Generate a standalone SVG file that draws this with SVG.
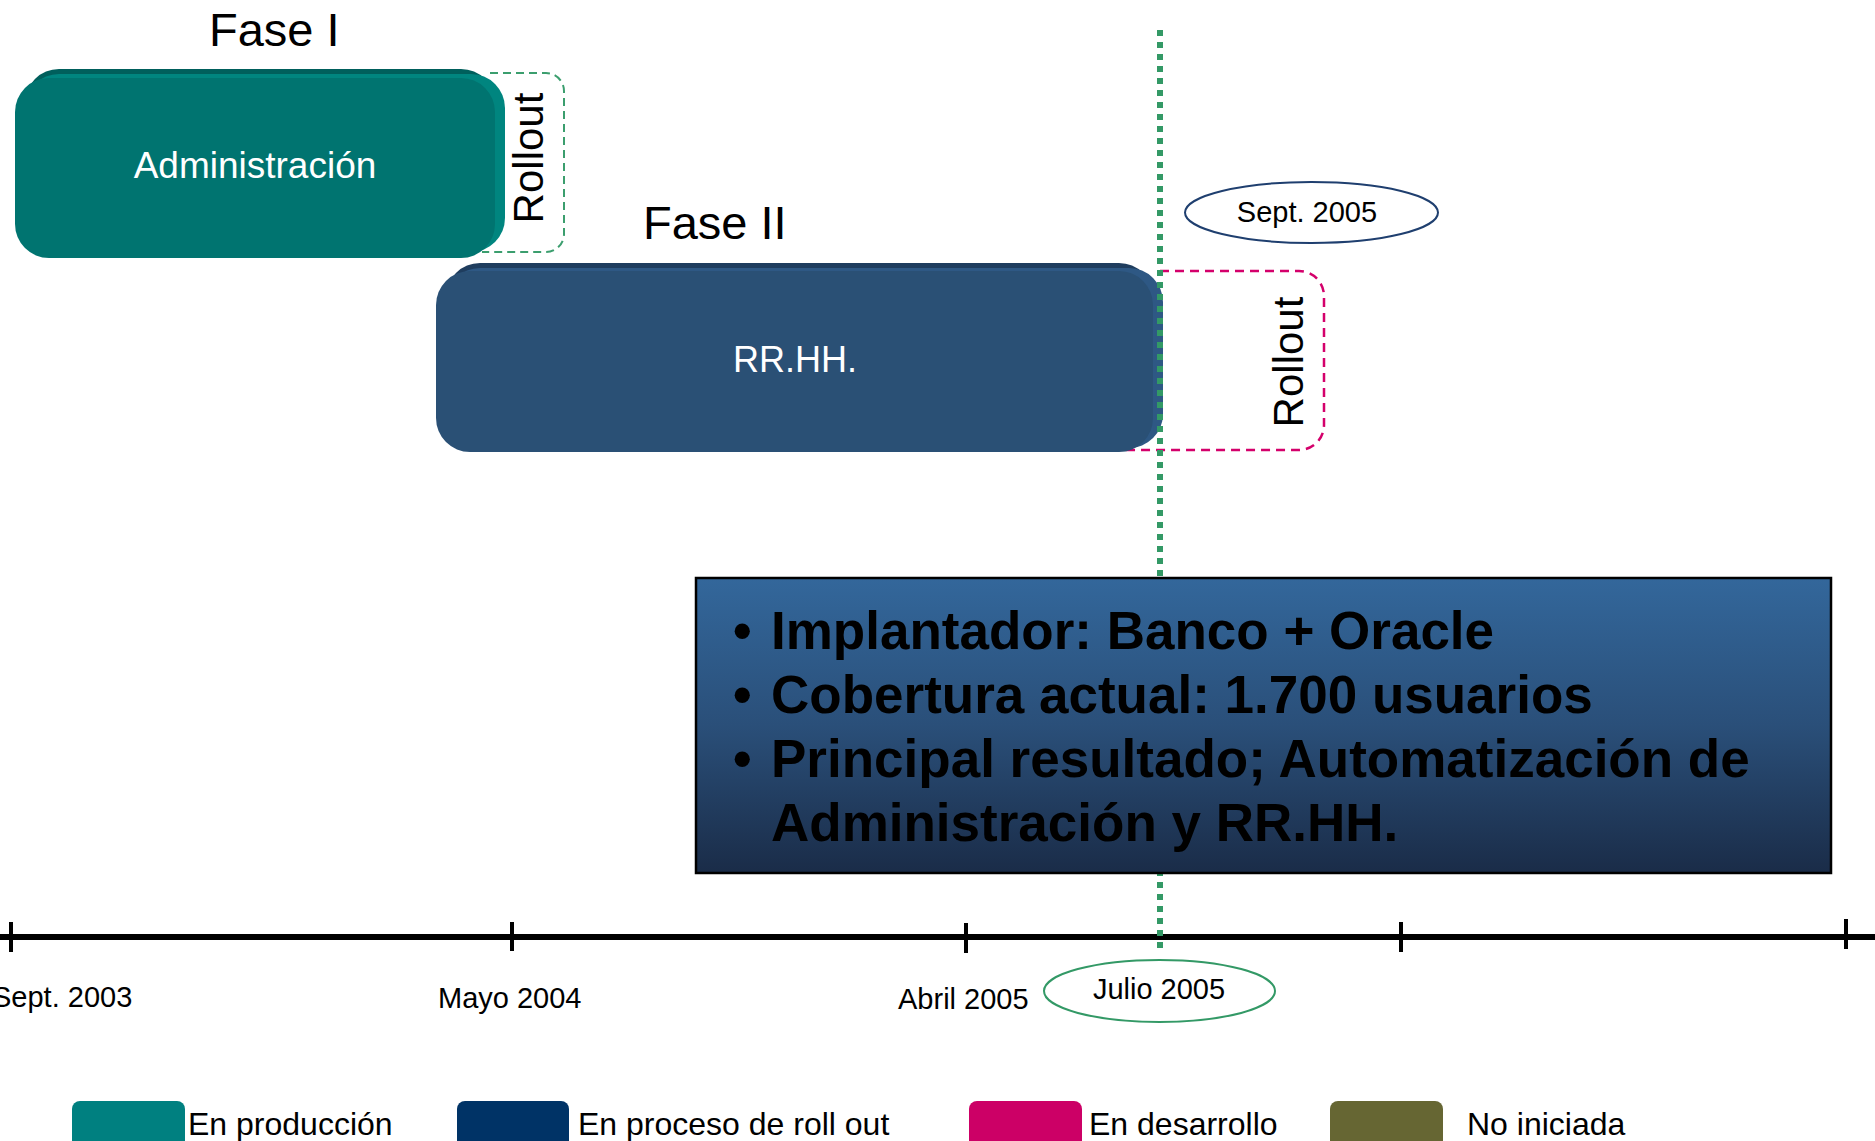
<svg xmlns="http://www.w3.org/2000/svg" width="1875" height="1141" viewBox="0 0 1875 1141">
<style>
text{font-family:"Liberation Sans",Arial,sans-serif;}
.ph{font-size:47px;fill:#000;}
.lbl{font-size:37px;fill:#fff;text-anchor:middle;}
.ro{font-size:42px;fill:#000;text-anchor:middle;}
.dt{font-size:29px;fill:#000;}
.bl{font-size:53px;font-weight:bold;fill:#000;}
.lg{font-size:32px;fill:#000;}
.tick{stroke:#000;stroke-width:4;}
</style>
<defs>
<linearGradient id="gbox" x1="0" y1="0" x2="0" y2="1">
<stop offset="0" stop-color="#33679b"/>
<stop offset="0.5" stop-color="#2a4f79"/>
<stop offset="1" stop-color="#1a2c48"/>
</linearGradient>
</defs>
<rect width="1875" height="1141" fill="#fff"/>

<text class="ph" x="209" y="46">Fase I</text>
<text class="ph" x="643" y="239">Fase II</text>

<g id="rollout1">
<path d="M490 73 H546 A18 18 0 0 1 564 91 V234 A18 18 0 0 1 546 252 H482" fill="none" stroke="#3b9e6e" stroke-width="2" stroke-dasharray="8 5"/>
<text class="ro" transform="translate(543,158) rotate(-90)">Rollout</text>
</g>

<g id="rollout2">
<path d="M1160 271 H1299 A25 25 0 0 1 1324 296 V425 A25 25 0 0 1 1299 450 H1124" fill="none" stroke="#d4006b" stroke-width="2.5" stroke-dasharray="9 6"/>
<text class="ro" transform="translate(1303,362) rotate(-90)">Rollout</text>
</g>

<g id="admin">
<rect x="25" y="69" width="470" height="181" rx="34" fill="#005f5c"/>
<rect x="25" y="74" width="480" height="178" rx="34" fill="#00857f"/>
<rect x="15" y="78" width="480" height="180" rx="34" fill="#007470"/>
<text class="lbl" x="255" y="178">Administración</text>
</g>

<g id="rrhh">
<rect x="446" y="263" width="707" height="180" rx="34" fill="#1f3d5e"/>
<rect x="446" y="268" width="717" height="180" rx="34" fill="#2e5884"/>
<rect x="436" y="271" width="717" height="181" rx="34" fill="#2a5075"/>
<text class="lbl" x="795" y="372" style="font-size:36px">RR.HH.</text>
</g>

<g id="sept2005">
<ellipse cx="1311.5" cy="212.5" rx="126.5" ry="30.5" fill="#fff" stroke="#1f3f6f" stroke-width="2"/>
<text class="dt" x="1307" y="222" text-anchor="middle">Sept. 2005</text>
</g>

<g id="connectors">
<line x1="0" y1="937" x2="1875" y2="937" stroke="#000" stroke-width="6"/>
<line class="tick" x1="11" y1="922" x2="11" y2="952"/>
<line class="tick" x1="512" y1="922" x2="512" y2="951"/>
<line class="tick" x1="966" y1="923" x2="966" y2="953"/>
<line class="tick" x1="1401" y1="922" x2="1401" y2="952"/>
<line class="tick" x1="1846" y1="919" x2="1846" y2="949"/>
<line x1="1160" y1="30" x2="1160" y2="948" stroke="#339966" stroke-width="6" stroke-dasharray="6 6"/>
</g>

<g id="infobox">
<rect x="696" y="578" width="1135" height="295" fill="url(#gbox)" stroke="#000" stroke-width="2.5"/>
<text class="bl" x="733" y="649">•</text>
<text class="bl" x="771" y="649">Implantador: Banco + Oracle</text>
<text class="bl" x="733" y="713">•</text>
<text class="bl" x="771" y="713">Cobertura actual: 1.700 usuarios</text>
<text class="bl" x="733" y="777">•</text>
<text class="bl" x="771" y="777">Principal resultado; Automatización de</text>
<text class="bl" x="771" y="841">Administración y RR.HH.</text>
</g>

<g id="dates">
<text class="dt" x="-8" y="1007">Sept. 2003</text>
<text class="dt" x="438" y="1008">Mayo 2004</text>
<text class="dt" x="898" y="1009">Abril 2005</text>
</g>

<g id="julio2005">
<ellipse cx="1159.5" cy="991" rx="115.5" ry="31" fill="#fff" stroke="#339966" stroke-width="2"/>
<text class="dt" x="1159" y="999" text-anchor="middle">Julio 2005</text>
</g>

<g id="legend">
<rect x="72" y="1101" width="113" height="60" rx="8" fill="#008080"/>
<text class="lg" x="188" y="1135">En producción</text>
<rect x="457" y="1101" width="112" height="60" rx="8" fill="#003366"/>
<text class="lg" x="578" y="1135">En proceso de roll out</text>
<rect x="969" y="1101" width="113" height="60" rx="8" fill="#cc0066"/>
<text class="lg" x="1089" y="1135">En desarrollo</text>
<rect x="1330" y="1101" width="113" height="60" rx="8" fill="#666633"/>
<text class="lg" x="1467" y="1135">No iniciada</text>
</g>
</svg>
